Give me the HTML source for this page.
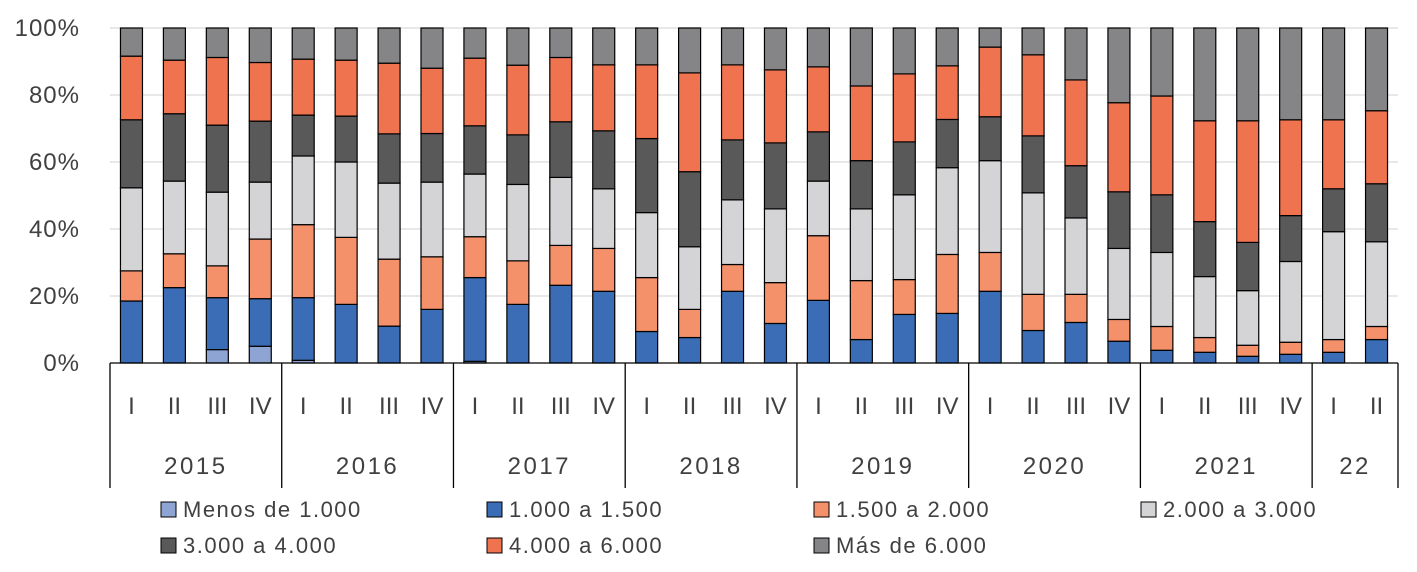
<!DOCTYPE html>
<html><head><meta charset="utf-8">
<style>
body{margin:0;background:#fff;}
svg text{font-family:"Liberation Sans","DejaVu Sans",sans-serif;fill:#404040;}
</style></head>
<body>
<svg id="chart" width="1417" height="567" xmlns="http://www.w3.org/2000/svg"></svg>
<script>
const quarters=["I","II","III","IV","I","II","III","IV","I","II","III","IV","I","II","III","IV","I","II","III","IV","I","II","III","IV","I","II","III","IV","I","II"];
const years=["2015","2016","2017","2018","2019","2020","2021","22"];
const yearCounts=[4,4,4,4,4,4,4,2];
const yTicks=["0%","20%","40%","60%","80%","100%"];
const seriesNames=["Menos de 1.000","1.000 a 1.500","1.500 a 2.000","2.000 a 3.000","3.000 a 4.000","4.000 a 6.000","Más de 6.000"];
const seriesColors=["#8ea4d2","#3a6db5","#f4906a","#d4d4d6","#595959","#f07350","#858587"];
const sMenos=[0,0,4,5,0.8,0,0,0,0.5,0,0,0,0,0,0,0,0,0,0,0,0,0,0,0,0,0,0,0,0,0];
const s1000=[18.5,22.5,15.5,14.2,18.7,17.5,11,16,25,17.5,23.2,21.4,9.4,7.6,21.4,11.8,18.7,7,14.5,14.8,21.4,9.7,12.1,6.5,3.8,3.2,2,2.6,3.2,7];
const s1500=[9,10.1,9.5,17.8,21.8,20,20,15.7,12.2,13,11.9,12.8,16.1,8.4,8,12.2,19.3,17.6,10.4,17.6,11.6,10.8,8.4,6.5,7.1,4.4,3.3,3.6,3.8,3.9];
const s2000=[24.8,21.7,22,17,20.5,22.5,22.7,22.3,18.7,22.8,20.3,17.8,19.4,18.7,19.3,22,16.3,21.4,25.3,25.9,27.4,30.3,22.8,21.2,22.1,18.2,16.3,24.1,32.2,25.3];
const s3000=[20.3,20.1,20,18.2,12.2,13.7,14.7,14.5,14.4,14.8,16.6,17.3,22.1,22.4,17.9,19.7,14.7,14.4,15.8,14.4,13.1,17,15.6,16.9,17.2,16.4,14.4,13.7,12.8,17.3];
const s4000=[19,16,20.2,17.5,16.7,16.7,21.1,19.5,20.2,20.8,19.2,19.7,22,29.5,22.4,21.8,19.4,22.3,20.3,16,20.8,24.2,25.6,26.6,29.5,30.1,36.3,28.6,20.6,21.8];
const sMas=[8.4,9.6,8.8,10.3,9.3,9.6,10.5,12,9,11.1,8.8,11,11,13.4,11,12.5,11.6,17.3,13.7,11.3,5.7,8,15.5,22.3,20.3,27.7,27.7,27.4,27.4,24.7];
const series=[sMenos,s1000,s1500,s2000,s3000,s4000,sMas];

const NS="http://www.w3.org/2000/svg";
const svg=document.getElementById('chart');
const X0=110,X1=1398,Y0=363,Y1=28;
const step=(X1-X0)/quarters.length, bw=22;
function y(v){return Y0-(v/100)*(Y0-Y1);}
function xc(i){return X0+(i+0.5)*step;}
function mk(tag,attrs,parent){const e=document.createElementNS(NS,tag);for(const k in attrs)e.setAttribute(k,attrs[k]);(parent||svg).appendChild(e);return e;}

yTicks.forEach((t,i)=>{
  const v=i*20;
  if(i>0){const g=mk('line',{x1:X0,x2:X1,y1:y(v),y2:y(v),stroke:'#d9d9d9','stroke-width':1.3});
  
  }
  const tx=mk('text',{x:80,y:y(v)+8,'text-anchor':'end','font-size':24,'letter-spacing':1});
  tx.textContent=t;
  
  
});
for(let i=0;i<quarters.length;i++){
  let cum=0;
  const grp=mk('g',{});
  
  
  series.forEach((s,k)=>{
    const v=s[i];
    if(v<=0){cum+=v;return;}
    const r=mk('rect',{x:xc(i)-bw/2,y:y(cum+v),width:bw,height:y(cum)-y(cum+v),fill:seriesColors[k],stroke:'#000','stroke-width':1.2},grp);
    
    
    cum+=v;
  });
  const q=mk('text',{x:xc(i),y:414,'text-anchor':'middle','font-size':24});
  q.textContent=quarters[i];
  
  
}
const ax=mk('line',{x1:X0,x2:X1,y1:Y0,y2:Y0,stroke:'#000','stroke-width':1.3});


let idx=0;
const b0=mk('line',{x1:X0,x2:X0,y1:Y0,y2:488,stroke:'#000','stroke-width':1.3});


years.forEach((yr,j)=>{
  const start=idx;idx+=yearCounts[j];
  const xe=X0+idx*step;
  const d=mk('line',{x1:xe,x2:xe,y1:Y0,y2:488,stroke:'#000','stroke-width':1.3});
  
  
  const t=mk('text',{x:X0+(start+idx)/2*step,y:474,'text-anchor':'middle','font-size':24,'letter-spacing':2.5});
  t.textContent=yr;
  
  
});
const lx=[161,487,814,1141];
seriesNames.forEach((n,k)=>{
  const row=Math.floor(k/4),col=k%4;
  const ly=row?546:510;
  const g=mk('g',{});
  
  
  mk('rect',{x:lx[col],y:ly-8,width:15,height:15,fill:seriesColors[k],stroke:'#000','stroke-width':1},g);
  const t=mk('text',{x:lx[col]+22,y:ly+7,'font-size':22,'letter-spacing':1.5},g);
  t.textContent=n;
});
</script>
</body></html>
